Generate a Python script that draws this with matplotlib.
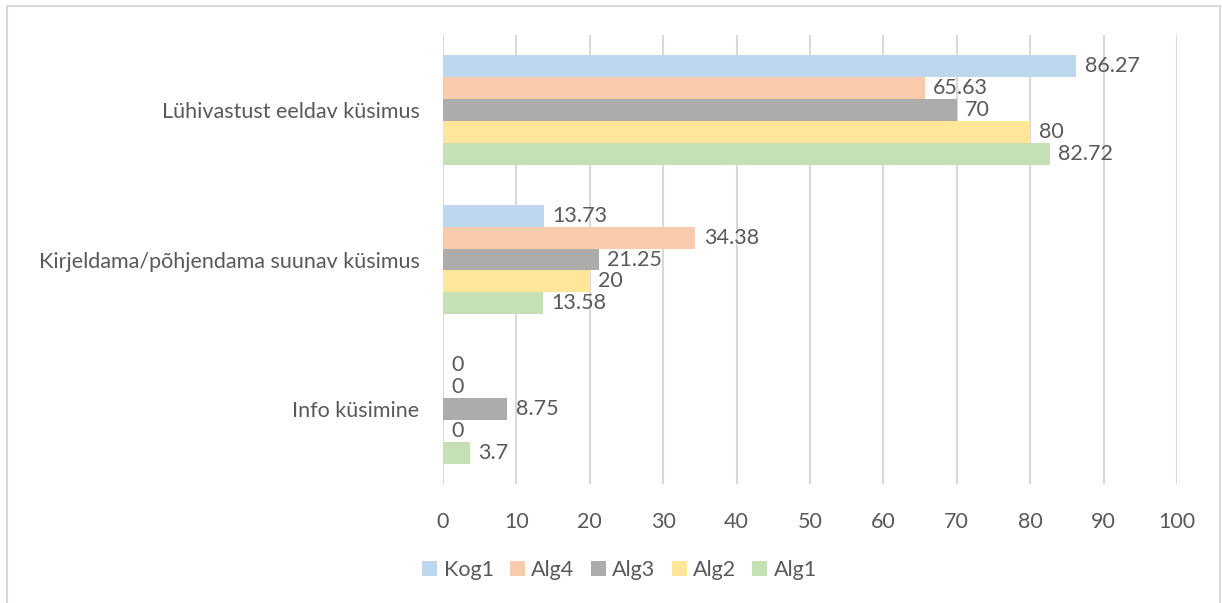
import numpy as np
import matplotlib
matplotlib.use("Agg")
import matplotlib.pyplot as plt
from matplotlib.patches import Rectangle

# Kategooriad ülevalt alla
categories = ["Lühivastust eeldav küsimus",
              "Kirjeldama/põhjendama suunav küsimus",
              "Info küsimine"]
series = ["Kog1", "Alg4", "Alg3", "Alg2", "Alg1"]
kog1 = [86.27, 13.73, 0]
alg4 = [65.63, 34.38, 0]
alg3 = [70, 21.25, 8.75]
alg2 = [80, 20, 0]
alg1 = [82.72, 13.58, 3.7]
values = [kog1, alg4, alg3, alg2, alg1]
colors = ["#BDD7EE", "#F8CBAD", "#AEABAB", "#FFE699", "#C5E0B4"]
xticks = list(range(0, 101, 10))

text_color = "#595959"
grid_color = "#D9D9D9"
fs = 15.5
plt.rcParams["font.family"] = ["Lato", "DejaVu Sans"]

fig = plt.figure(figsize=(12.22, 6.03), dpi=100)
ax = fig.add_axes([443 / 1222, 1 - 484 / 603, 734 / 1222, 449 / 603])

# raam ümber joonise (alumine serv jääb pildist välja)
fig.patches.append(Rectangle((7 / 1222, -0.05), 1213 / 1222, 1.05 - 6 / 603,
                             transform=fig.transFigure, fill=False,
                             edgecolor=grid_color, linewidth=1.5))

h = 0.1467
ypos = np.arange(len(categories))
for i, (name, vals, col) in enumerate(zip(series, values, colors)):
    y = ypos + (i - 2) * h
    ax.barh(y, vals, height=h, color=col, label=name, zorder=2)
    for yy, v in zip(y, vals):
        ax.annotate(f"{v:g}", (v, yy), xytext=(6, 0), textcoords="offset points",
                    va="center", ha="left", fontsize=fs, color=text_color)

ax.set_ylim(2.5, -0.5)
ax.set_xlim(0, 100)
ax.set_xticks(xticks)
ax.set_yticks(ypos)
ax.set_yticklabels(categories)
ax.tick_params(axis="both", length=0, labelsize=fs, labelcolor=text_color)
ax.tick_params(axis="x", pad=20)
ax.tick_params(axis="y", pad=17)
ax.grid(axis="x", color=grid_color, linewidth=1.5, zorder=0)
for s in ax.spines.values():
    s.set_visible(False)

fig.legend(loc="center", bbox_to_anchor=(0.507, 0.055), ncol=5, frameon=False,
           fontsize=fs, labelcolor=text_color, handlelength=0.7, handleheight=0.7,
           handletextpad=0.3, columnspacing=0.75)

fig.savefig("out.png", dpi=100)
